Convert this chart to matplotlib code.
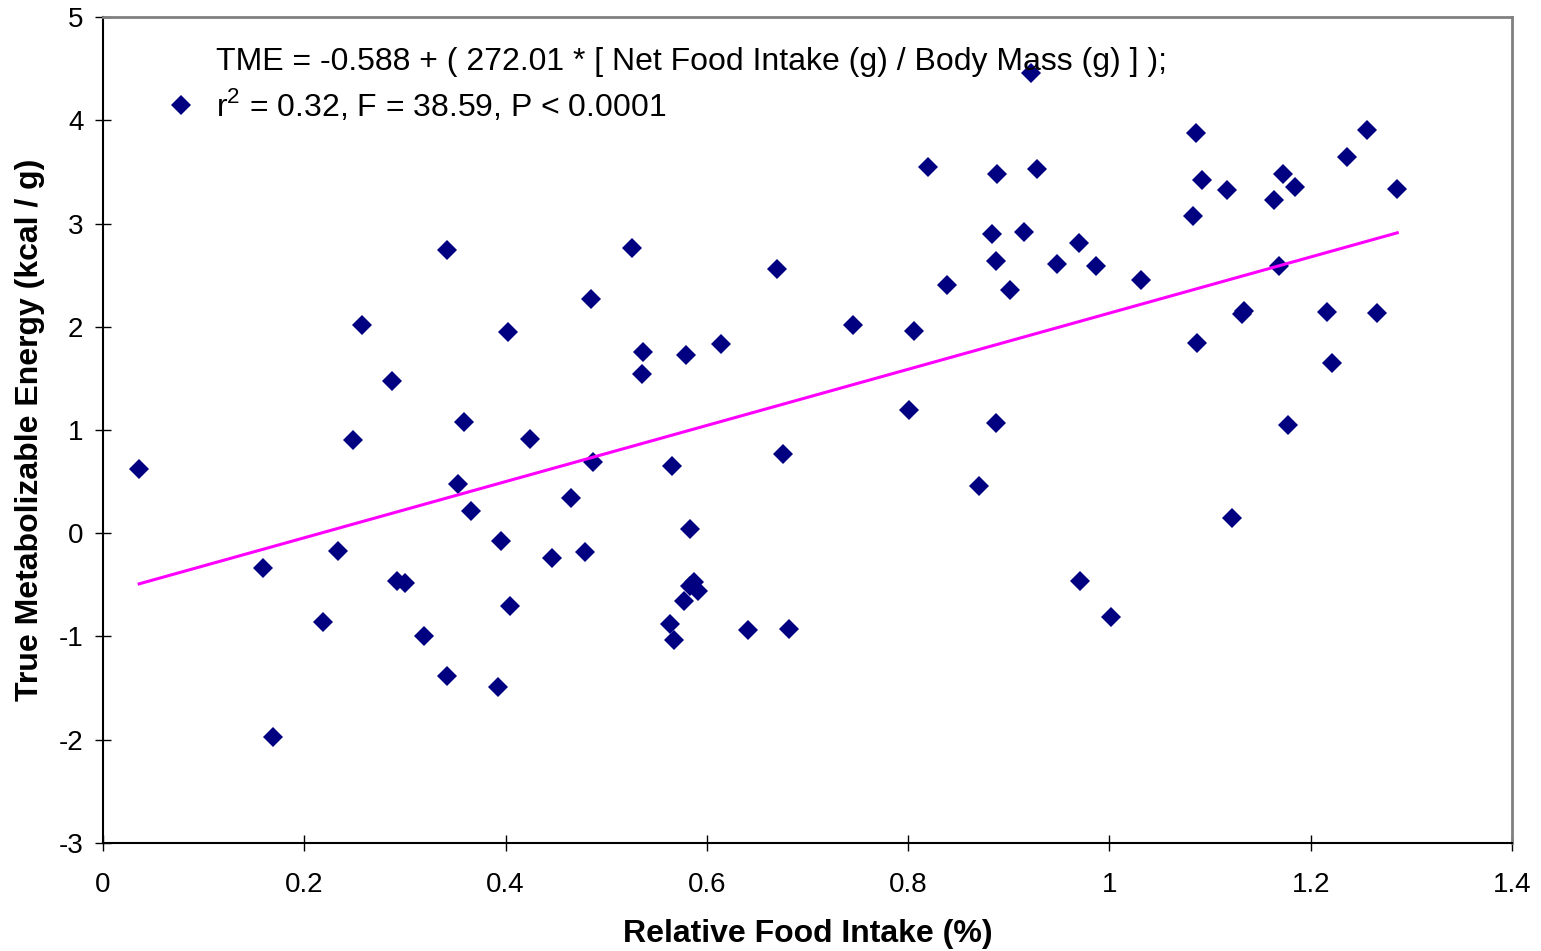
import numpy as np
import matplotlib.pyplot as plt
from matplotlib.lines import Line2D

plt.rcParams['font.family'] = ['Liberation Sans', 'DejaVu Sans']
plt.rcParams['mathtext.fontset'] = 'custom'
plt.rcParams['mathtext.rm'] = 'Liberation Sans'
plt.rcParams['axes.unicode_minus'] = False

# relative food intake (%) and true metabolizable energy (kcal / g)
food_intake = [0.036, 0.159, 0.169, 0.219, 0.234, 0.248, 0.257, 0.287, 0.292, 0.300,
               0.319, 0.342, 0.342, 0.353, 0.359, 0.366, 0.393, 0.395, 0.402, 0.404,
               0.424, 0.446, 0.465, 0.479, 0.485, 0.487, 0.526, 0.536, 0.537, 0.563,
               0.565, 0.567, 0.577, 0.579, 0.583, 0.583, 0.587, 0.591, 0.614, 0.641,
               0.670, 0.676, 0.682, 0.745, 0.801, 0.806, 0.820, 0.839, 0.870, 0.883,
               0.887, 0.887, 0.888, 0.901, 0.915, 0.922, 0.928, 0.948, 0.970, 0.971,
               0.987, 1.002, 1.031, 1.083, 1.086, 1.087, 1.092, 1.117, 1.122, 1.132,
               1.134, 1.164, 1.168, 1.172, 1.177, 1.184, 1.216, 1.221, 1.236, 1.256,
               1.266, 1.286]
tme = [0.62, -0.34, -1.97, -0.86, -0.17, 0.90, 2.02, 1.47, -0.46, -0.48,
       -1.00, 2.74, -1.38, 0.48, 1.08, 0.22, -1.49, -0.08, 1.95, -0.70,
       0.91, -0.24, 0.34, -0.18, 2.27, 0.69, 2.76, 1.54, 1.76, -0.88,
       0.65, -1.03, -0.66, 1.73, 0.04, -0.51, -0.47, -0.56, 1.83, -0.94,
       2.56, 0.77, -0.93, 2.02, 1.19, 1.96, 3.55, 2.40, 0.46, 2.90,
       2.64, 1.07, 3.48, 2.36, 2.92, 4.46, 3.53, 2.61, 2.81, -0.46,
       2.59, -0.81, 2.45, 3.07, 3.88, 1.84, 3.42, 3.32, 0.15, 2.12,
       2.15, 3.23, 2.59, 3.48, 1.05, 3.35, 2.14, 1.65, 3.64, 3.91,
       2.13, 3.33]

# regression: TME = -0.588 + 272.01 * (intake / mass); x here is in %
intercept = -0.588
slope = 2.7201

x = np.array(food_intake)
y = np.array(tme)

fig = plt.figure(figsize=(15.41, 9.51), dpi=100)
ax = fig.add_axes([0.0668, 0.1136, 0.9144, 0.8685])

ax.plot(x, y, linestyle='none', marker='D', markersize=10, color='#000080',
        markeredgewidth=0)
xl = np.array([x.min(), x.max()])
ax.plot(xl, intercept + slope * xl, color='#FF00FF', linewidth=2.2)

ax.set_xlim(0, 1.4)
ax.set_ylim(-3, 5)
ax.set_xticks(np.arange(0, 1.41, 0.2))
ax.set_xticklabels(['0', '0.2', '0.4', '0.6', '0.8', '1', '1.2', '1.4'])
ax.set_yticks(range(-3, 6))
ax.tick_params(direction='inout', length=12, width=1, labelsize=20)
ax.tick_params(axis='x', pad=15)
ax.tick_params(axis='y', pad=8)

for s in ['top', 'right']:
    ax.spines[s].set_color('#808080')
    ax.spines[s].set_linewidth(2)
for s in ['left', 'bottom']:
    ax.spines[s].set_color('black')
    ax.spines[s].set_linewidth(1.5)

ax.set_xlabel('Relative Food Intake (%)', fontsize=23, fontweight='bold', labelpad=15)
ax.set_ylabel('True Metabolizable Energy (kcal / g)', fontsize=23, fontweight='bold', labelpad=10)

handles = [Line2D([], [], linestyle='none'),
           Line2D([], [], linestyle='none', marker='D', markersize=10,
                  color='#000080', markeredgewidth=0)]
labels = ['TME = -0.588 + ( 272.01 * [ Net Food Intake (g) / Body Mass (g) ] );',
          'r$^2$ = 0.32, F = 38.59, P < 0.0001']
ax.legend(handles, labels, loc='upper left', bbox_to_anchor=(0.0237, 0.998),
          frameon=False, fontsize=23, labelspacing=0.3, handlelength=1.0,
          handletextpad=0.6)

plt.savefig('out.png')
